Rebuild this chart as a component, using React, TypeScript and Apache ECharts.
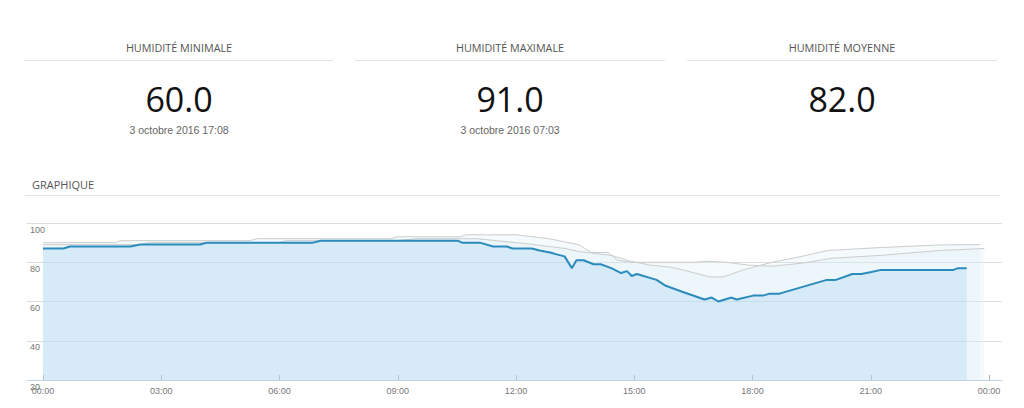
import React, { useEffect, useRef } from "react";
import * as echarts from "echarts";

// ---- Data ----
const STAT_TITLES = ["HUMIDITÉ MINIMALE", "HUMIDITÉ MAXIMALE", "HUMIDITÉ MOYENNE"];
const STAT_VALUES = ["60.0", "91.0", "82.0"];
const STAT_DATES = ["3 octobre 2016 17:08", "3 octobre 2016 07:03", ""];
const SECTION_TITLE = "GRAPHIQUE";

const Y_TICKS = [20, 40, 60, 80, 100];
const X_TICK_HOURS = [0, 3, 6, 9, 12, 15, 18, 21, 24];

// Humidity of the day (blue)
const DAY_TIMES = [
  "00:00", "00:31", "00:41", "02:13", "02:28", "03:59", "04:10", "06:51", "07:03",
  "10:31", "10:38", "11:05", "11:25", "11:46", "11:55", "12:24", "12:36", "12:52",
  "13:02", "13:14", "13:25", "13:32", "13:43", "13:58", "14:09", "14:25", "14:40",
  "14:49", "14:56", "15:04", "15:34", "15:48", "16:13", "16:47", "16:58", "17:08",
  "17:28", "17:36", "18:01", "18:16", "18:26", "18:41", "19:53", "20:07", "20:32",
  "20:46", "21:01", "21:14", "23:05", "23:13", "23:26",
];
const DAY_VALUES = [
  87, 87, 88, 88, 89, 89, 90, 90, 91,
  91, 90, 90, 88, 88, 87, 87, 86, 85,
  84, 83, 77, 81, 81, 79, 79, 77, 74.5,
  75.5, 73, 74, 71, 68, 65, 61, 62, 60,
  62, 61, 63, 63, 64, 64, 71, 71, 74,
  74, 75, 76, 76, 77, 77,
];

// Comparison curve A (grey)
const REF_A_TIMES = [
  "00:00", "01:50", "01:58", "05:15", "05:25", "08:50", "09:00", "10:35", "10:45",
  "12:00", "12:50", "13:35", "13:55", "14:20", "14:35", "14:55", "16:30", "16:55",
  "17:20", "17:55", "18:30", "19:15", "20:00", "21:15", "22:45", "23:53",
];
const REF_A_VALUES = [
  90, 90, 91, 91, 92, 92, 93, 93, 94,
  94, 92, 89, 85, 85, 81, 80, 80, 80.5,
  80, 78.5, 78, 79.5, 82, 83.5, 86, 87,
];

// Comparison curve B (grey)
const REF_B_TIMES = [
  "00:00", "02:30", "02:40", "06:00", "06:10", "09:00", "09:30", "11:00", "12:15",
  "13:15", "13:35", "14:25", "14:55", "15:25", "15:55", "16:15", "16:55", "17:15",
  "17:50", "18:30", "19:15", "19:55", "21:15", "22:45", "23:46",
];
const REF_B_VALUES = [
  89, 89, 90, 90, 91, 91, 92, 92, 89.5,
  87, 85.5, 83.5, 80.5, 78.5, 77.5, 76, 72.5, 72.5,
  76.5, 80, 83, 86, 87.5, 88.8, 89,
];

const toHours = (t: string) => {
  const [h, m] = t.split(":").map(Number);
  return h + m / 60;
};
const pairs = (times: string[], values: number[]) =>
  times.map((t, i) => [toHours(t), values[i]]);

const W = 1024;
const H = 408;

export default function App() {
  const ref = useRef<HTMLDivElement>(null);

  useEffect(() => {
    if (!ref.current) return;
    const chart = echarts.init(ref.current, null, { renderer: "svg", width: W, height: H });

    const cardCenters = [179, 510, 842];
    const cardLines = [
      [24, 333],
      [355, 665],
      [687, 997],
    ];
    const graphic: any[] = [];
    STAT_TITLES.forEach((t, i) => {
      graphic.push({
        type: "text",
        x: cardCenters[i],
        y: 47,
        style: {
          text: t,
          fill: "#555",
          font: '400 10.8px "Open Sans"',
          textAlign: "center",
          textVerticalAlign: "middle",
        },
      });
      graphic.push({
        type: "line",
        shape: { x1: cardLines[i][0], y1: 60.5, x2: cardLines[i][1], y2: 60.5 },
        style: { stroke: "#e2e2e2", lineWidth: 1 },
      });
      graphic.push({
        type: "text",
        x: cardCenters[i],
        y: 99,
        style: {
          text: STAT_VALUES[i],
          fill: "#111",
          font: '400 34px "Open Sans"',
          textAlign: "center",
          textVerticalAlign: "middle",
        },
      });
      if (STAT_DATES[i]) {
        graphic.push({
          type: "text",
          x: cardCenters[i],
          y: 130,
          style: {
            text: STAT_DATES[i],
            fill: "#666",
            font: '400 10.5px "Liberation Sans"',
            textAlign: "center",
            textVerticalAlign: "middle",
          },
        });
      }
    });
    graphic.push({
      type: "text",
      x: 32,
      y: 184,
      style: {
        text: SECTION_TITLE,
        fill: "#555",
        font: '400 11px "Open Sans"',
        textAlign: "left",
        textVerticalAlign: "middle",
      },
    });
    graphic.push({
      type: "line",
      shape: { x1: 25, y1: 195.5, x2: 1000, y2: 195.5 },
      style: { stroke: "#e2e2e2", lineWidth: 1 },
    });

    const gridTop = 223;
    const gridBottom = H - 380;

    chart.setOption({
      animation: false,
      graphic,
      grid: [
        { left: 27, right: W - 1002, top: gridTop, bottom: gridBottom },
        { left: 43, right: W - 989, top: gridTop, bottom: gridBottom },
      ],
      xAxis: [
        {
          gridIndex: 0,
          type: "value",
          min: 0,
          max: 1,
          axisLine: { show: true, lineStyle: { color: "#c3d3e0", width: 1 } },
          axisTick: { show: false },
          axisLabel: { show: false },
          splitLine: { show: false },
        },
        {
          gridIndex: 1,
          type: "value",
          min: 0,
          max: 24,
          interval: 3,
          axisLine: { show: false },
          axisTick: {
            show: true,
            inside: true,
            length: 5,
            lineStyle: { color: "#aaa" },
          },
          axisLabel: {
            show: true,
            color: "#777",
            fontSize: 9,
            fontFamily: "Liberation Sans",
            margin: 6,
            formatter: (v: number) =>
              X_TICK_HOURS.includes(v) ? String(v % 24).padStart(2, "0") + ":00" : "",
          },
          splitLine: { show: false },
        },
      ],
      yAxis: [
        {
          gridIndex: 0,
          type: "value",
          min: Y_TICKS[0],
          max: Y_TICKS[Y_TICKS.length - 1],
          interval: 20,
          axisLine: { show: false },
          axisTick: { show: false },
          axisLabel: {
            show: true,
            inside: true,
            margin: 3,
            color: "#777",
            fontSize: 9,
            fontFamily: "Liberation Sans",
            verticalAlign: "top",
            padding: [2, 0, 0, 0],
          },
          splitLine: { show: true, lineStyle: { color: "#dedede", width: 1 } },
        },
        {
          gridIndex: 1,
          type: "value",
          min: Y_TICKS[0],
          max: Y_TICKS[Y_TICKS.length - 1],
          show: false,
        },
      ],
      series: [
        {
          type: "line",
          xAxisIndex: 1,
          yAxisIndex: 1,
          data: pairs(REF_A_TIMES, REF_A_VALUES),
          symbol: "none",
          lineStyle: { color: "#cccccc", width: 1 },
          areaStyle: { color: "rgba(214,234,248,0.35)" },
          z: 2,
        },
        {
          type: "line",
          xAxisIndex: 1,
          yAxisIndex: 1,
          data: pairs(REF_B_TIMES, REF_B_VALUES),
          symbol: "none",
          lineStyle: { color: "#cccccc", width: 1 },
          areaStyle: { color: "rgba(214,234,248,0.35)" },
          z: 2,
        },
        {
          type: "line",
          xAxisIndex: 1,
          yAxisIndex: 1,
          data: pairs(DAY_TIMES, DAY_VALUES),
          symbol: "none",
          lineStyle: { color: "#2a8bbd", width: 2 },
          areaStyle: { color: "rgba(150,203,238,0.38)" },
          z: 3,
        },
      ],
    });

    return () => chart.dispose();
  }, []);

  return (
    <div
      ref={ref}
      style={{ position: "absolute", left: 0, top: 0, width: W, height: H, background: "#fff" }}
    />
  );
}
